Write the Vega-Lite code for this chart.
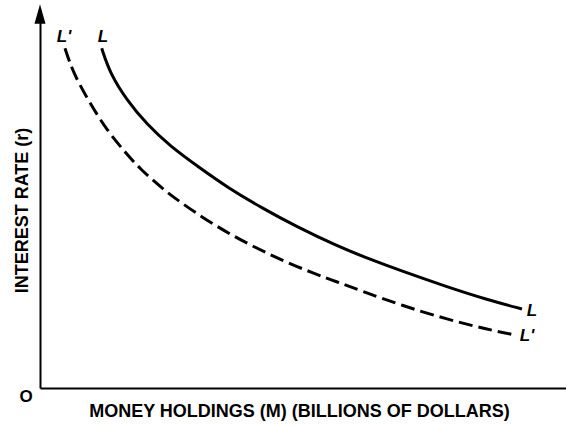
{
  "$schema": "https://vega.github.io/schema/vega-lite/v6.json",
  "width": 526,
  "height": 378,
  "autosize": {"type": "none"},
  "padding": {"left": 40, "top": 10, "right": 0, "bottom": 38},
  "background": "white",
  "config": {"view": {"stroke": null}},
  "datasets": {
    "curves": [
      {"M": 11.73, "r": 89.87, "curve": "L"},
      {"M": 13.31, "r": 83.25, "curve": "L"},
      {"M": 16.48, "r": 76.19, "curve": "L"},
      {"M": 20.29, "r": 69.80, "curve": "L"},
      {"M": 24.71, "r": 64.00, "curve": "L"},
      {"M": 30.42, "r": 58.20, "curve": "L"},
      {"M": 35.49, "r": 53.20, "curve": "L"},
      {"M": 42.45, "r": 47.40, "curve": "L"},
      {"M": 48.80, "r": 42.67, "curve": "L"},
      {"M": 56.41, "r": 37.60, "curve": "L"},
      {"M": 61.46, "r": 34.74, "curve": "L"},
      {"M": 69.07, "r": 30.77, "curve": "L"},
      {"M": 77.32, "r": 26.80, "curve": "L"},
      {"M": 84.92, "r": 23.40, "curve": "L"},
      {"M": 91.63, "r": 20.90, "curve": "L"},
      {"M": 4.75, "r": 89.87, "curve": "L'"},
      {"M": 6.33, "r": 83.25, "curve": "L'"},
      {"M": 9.51, "r": 75.32, "curve": "L'"},
      {"M": 12.68, "r": 68.25, "curve": "L'"},
      {"M": 16.48, "r": 61.90, "curve": "L'"},
      {"M": 19.01, "r": 58.00, "curve": "L'"},
      {"M": 23.38, "r": 52.60, "curve": "L'"},
      {"M": 26.62, "r": 49.20, "curve": "L'"},
      {"M": 32.95, "r": 43.20, "curve": "L'"},
      {"M": 39.30, "r": 38.28, "curve": "L'"},
      {"M": 45.63, "r": 34.00, "curve": "L'"},
      {"M": 51.96, "r": 30.34, "curve": "L'"},
      {"M": 56.41, "r": 28.12, "curve": "L'"},
      {"M": 61.46, "r": 25.48, "curve": "L'"},
      {"M": 69.07, "r": 21.70, "curve": "L'"},
      {"M": 77.32, "r": 18.20, "curve": "L'"},
      {"M": 84.92, "r": 15.53, "curve": "L'"},
      {"M": 90.30, "r": 14.02, "curve": "L'"}
    ],
    "labels": [
      {"M": 11.98, "r": 92.9, "text": "L"},
      {"M": 4.56, "r": 92.9, "text": "L'"},
      {"M": 93.54, "r": 20.4, "text": "L"},
      {"M": 92.59, "r": 13.8, "text": "L'"}
    ],
    "origin": [{"M": 0, "r": 0, "text": "O"}],
    "arrow": [{"M": 0, "r": 98.3}]
  },
  "encoding": {
    "x": {"field": "M", "type": "quantitative", "scale": {"domain": [0, 100], "nice": false, "zero": false},
      "axis": {"domain": true, "domainColor": "black", "domainWidth": 2, "ticks": false, "labels": false, "grid": false,
        "title": "MONEY HOLDINGS (M)  (BILLIONS OF DOLLARS)", "titleFont": "Liberation Sans", "titleFontSize": 18, "titleFontWeight": "bold", "titleColor": "black",
        "titleX": 259, "titleY": 23, "titleBaseline": "middle", "titleAlign": "center", "titleAnchor": null}},
    "y": {"field": "r", "type": "quantitative", "scale": {"domain": [0, 100], "nice": false, "zero": false},
      "axis": {"domain": true, "domainColor": "black", "domainWidth": 2, "ticks": false, "labels": false, "grid": false,
        "title": "INTEREST RATE (r)", "titleFont": "Liberation Sans", "titleFontSize": 18, "titleFontWeight": "bold", "titleColor": "black",
        "titleX": -18, "titleY": 200, "titleBaseline": "middle", "titleAlign": "center", "titleAngle": -90, "titleAnchor": null}}
  },
  "layer": [
    {
      "data": {"name": "curves"},
      "transform": [{"filter": "datum.curve === 'L'"}],
      "mark": {"type": "line", "interpolate": "basis", "color": "black", "strokeWidth": 3}
    },
    {
      "data": {"name": "curves"},
      "transform": [{"filter": "datum.curve === \"L'\""}],
      "mark": {"type": "line", "interpolate": "basis", "color": "black", "strokeWidth": 3, "strokeDash": [14, 6]}
    },
    {
      "data": {"name": "labels"},
      "mark": {"type": "text", "font": "Liberation Sans", "fontSize": 17, "fontWeight": "bold", "fontStyle": "italic", "color": "black", "align": "center", "baseline": "middle"},
      "encoding": {"text": {"field": "text"}}
    },
    {
      "data": {"name": "origin"},
      "mark": {"type": "text", "font": "Liberation Sans", "fontSize": 17, "fontWeight": "bold", "color": "black", "align": "center", "baseline": "middle", "dx": -14, "dy": 9},
      "encoding": {"text": {"field": "text"}}
    },
    {
      "data": {"name": "arrow"},
      "mark": {"type": "point", "shape": "M0,-1L0.45,0.6L-0.45,0.6Z", "filled": true, "color": "black", "opacity": 1, "size": 600, "strokeWidth": 0}
    }
  ]
}
